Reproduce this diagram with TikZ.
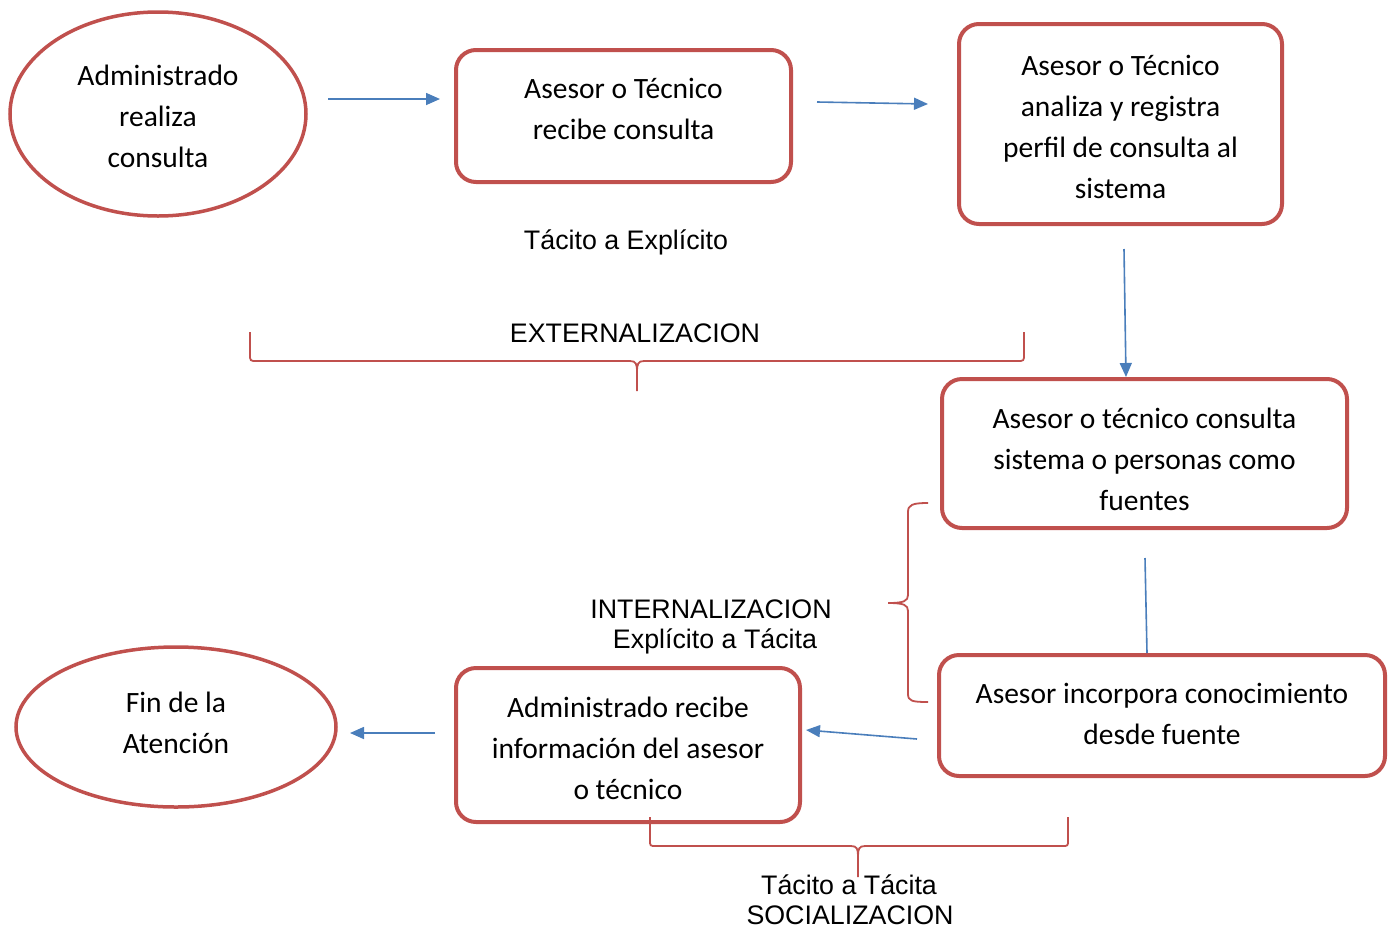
\documentclass[tikz,border=0pt]{standalone}
\usepackage{fontspec}
\setmainfont{Liberation Sans}
\newfontfamily\boxfont{Carlito}
\usetikzlibrary{shapes.geometric,arrows.meta}
\definecolor{boxred}{HTML}{C0504D}
\definecolor{arrblue}{HTML}{4A7EBB}
\tikzset{
  boxst/.style={draw=boxred, line width=4pt, rounded corners=20pt, inner sep=0pt},
  ellst/.style={ellipse, draw=boxred, line width=3.5pt, inner sep=0pt},
  boxtxt/.style={align=center, inner sep=0pt, font=\boxfont\fontsize{29.5}{41}\selectfont},
  arr/.style={draw=arrblue, line width=1.6pt, -{Triangle[length=14pt,width=12pt]}},
  lnk/.style={draw=arrblue, line width=1.6pt},
  bracest/.style={draw=boxred, line width=1.8pt},
  lbl/.style={font=\fontsize{26.8}{30}\selectfont, inner sep=0pt, align=center, anchor=base}
}
\begin{document}
\begin{tikzpicture}[x=1pt,y=-1pt]
\useasboundingbox (0,0) rectangle (1392,927);
% shapes
\node[ellst, minimum width=296pt, minimum height=204pt] (e1) at (158,114) {};
\node[boxtxt] (e1t) at (158,116) {Administrado\\realiza\\consulta};
\node[boxst, minimum width=335pt, minimum height=132pt] (b1) at (623.5,116) {};
\node[boxtxt] (b1t) at (623.5,109) {Asesor o Técnico\\recibe consulta};
\node[boxst, minimum width=323pt, minimum height=200pt] (b2) at (1120.5,124) {};
\node[boxtxt] (b2t) at (1120.5,127) {Asesor o Técnico\\analiza y registra\\perfil de consulta al\\sistema};
\node[boxst, minimum width=405pt, minimum height=149pt] (b3) at (1144.5,453.5) {};
\node[boxtxt] (b3t) at (1144.5,459.5) {Asesor o técnico consulta\\sistema o personas como\\fuentes};
\node[boxst, minimum width=446pt, minimum height=121pt] (b4) at (1162,715.5) {};
\node[boxtxt] (b4t) at (1162,713.5) {Asesor incorpora conocimiento\\desde fuente};
\node[boxst, minimum width=344pt, minimum height=154pt] (b5) at (628,745) {};
\node[boxtxt] (b5t) at (628,748) {Administrado recibe\\información del asesor\\o técnico};
\node[ellst, minimum width=320pt, minimum height=160pt] (e2) at (176,727) {};
\node[boxtxt] (e2t) at (176,723) {Fin de la\\Atención};
% connector end points
\coordinate (a1s) at (328,99);   \coordinate (a1e) at (440,99);
\coordinate (a2s) at (817,102);  \coordinate (a2e) at (928,104);
\coordinate (a3s) at (1124,249); \coordinate (a3e) at (1126,377);
\coordinate (a4s) at (1145,558); \coordinate (a4e) at (1147,653);
\coordinate (a5s) at (917,739);  \coordinate (a5e) at (806,730);
\coordinate (a6s) at (435,733);  \coordinate (a6e) at (350,733);
\draw[arr] (a1s) -- (a1e);
\draw[arr] (a2s) -- (a2e);
\draw[arr] (a3s) -- (a3e);
\draw[lnk] (a4s) -- (a4e);
\draw[arr] (a5s) -- (a5e);
\draw[arr] (a6s) -- (a6e);
% braces
\draw[bracest] (250,332) -- (250,354) .. controls (250,361) .. (257,361) -- (630,361)
  .. controls (636,361) and (637,364) .. (637,372) -- (637,391);
\draw[bracest] (637,372) .. controls (637,364) and (638,361) .. (644,361) -- (1017,361)
  .. controls (1024,361) .. (1024,354) -- (1024,332);
\draw[bracest] (928,503) .. controls (912,503) and (908,505) .. (908,512) -- (908,595)
  .. controls (908,601) and (904,603) .. (888,603);
\draw[bracest] (888,603) .. controls (904,603) and (908,605) .. (908,611) -- (908,694)
  .. controls (908,701) and (912,702) .. (928,702);
\draw[bracest] (650,817) -- (650,840) .. controls (650,846) .. (656,846) -- (851,846)
  .. controls (857,846) and (858,849) .. (858,856) -- (858,877);
\draw[bracest] (858,856) .. controls (858,849) and (859,846) .. (865,846) -- (1062,846)
  .. controls (1068,846) .. (1068,840) -- (1068,817);
% labels
\node[lbl] (t1) at (626,249) {Tácito a Explícito};
\node[lbl] (t2) at (635,342) {EXTERNALIZACION};
\node[lbl] (t3) at (711,618) {INTERNALIZACION};
\node[lbl] (t4) at (715,648) {Explícito a Tácita};
\node[lbl] (t5) at (849,894) {Tácito a Tácita};
\node[lbl] (t6) at (850,924) {SOCIALIZACION};
\end{tikzpicture}
\end{document}
